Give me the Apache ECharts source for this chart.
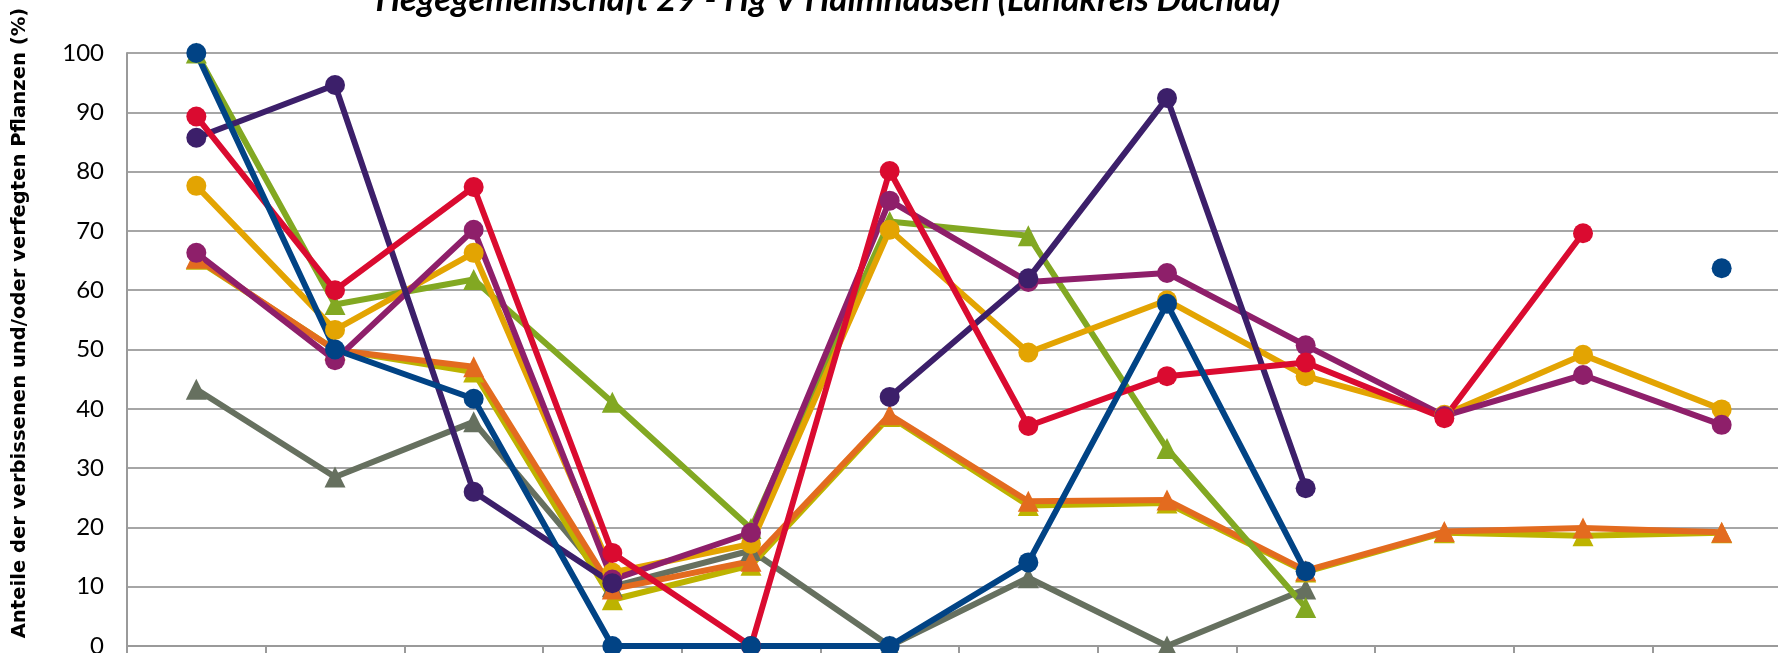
<!DOCTYPE html>
<html>
<head>
<meta charset="utf-8">
<script src="https://cdn.jsdelivr.net/npm/echarts@6/dist/echarts.min.js"></script>
<style>
  html, body { margin: 0; padding: 0; background: #fff; }
  #main { width: 1778px; height: 653px; }
</style>
</head>
<body>
<div id="main"></div>
<script>
// Kategorien (Beschriftung unten abgeschnitten)
var categories = ['1', '2', '3', '4', '5', '6', '7', '8', '9', '10', '11', '12'];
var yTicks = [0, 10, 20, 30, 40, 50, 60, 70, 80, 90, 100];

// Werte je Reihe (null = kein Wert)
var graugruen = [43.3, 28.5, 37.8, 10, 16.1, 0, 11.5, 0, 9.6, null, null, null];
var oliv      = [65.2, 50, 46.2, 7.8, 13.6, 38.7, 23.7, 24.1, 12.5, 19.1, 18.6, 19.1];
var orange    = [65.4, 49.9, 47.1, 9.6, 14.3, 39, 24.4, 24.6, 12.7, 19.3, 19.9, 19.2];
var gruen     = [100, 57.6, 61.8, 41.1, 19.8, 71.6, 69.2, 33.3, 6.5, null, null, null];
var gold      = [77.6, 53.3, 66.3, 12.4, 17.2, 70.2, 49.5, 58.3, 45.5, 39, 49.1, 39.9];
var magenta   = [66.3, 48.2, 70.2, 11.2, 19.1, 75.1, 61.4, 62.9, 50.7, 38.8, 45.7, 37.3];
var violett   = [85.7, 94.6, 26, 10.6, null, 42, 62, 92.4, 26.6, null, null, null];
var rot       = [89.3, 60, 77.4, 15.7, 0, 80.1, 37.1, 45.5, 47.8, 38.4, 69.6, null];
var blau      = [100, 50, 41.7, 0, 0, 0, 14.1, 57.7, 12.6, null, null, 63.7];

var chart = echarts.init(document.getElementById('main'));

function reihe(name, data, color, symbol) {
  return {
    name: name,
    type: 'line',
    data: data,
    symbol: symbol,
    symbolSize: symbol === 'triangle' ? 21 : 20,
    showAllSymbol: true,
    lineStyle: { width: 6, color: color },
    itemStyle: { color: color },
    emphasis: { disabled: true }
  };
}

chart.setOption({
  animation: false,
  // Zeichenfläche ragt rechts über den Bildrand hinaus
  grid: { left: 127, width: 1664, top: 53, bottom: 7, outerBoundsMode: 'none' },
  graphic: [
    {
      type: 'text', x: 828, y: 17,
      style: {
        text: 'Hegegemeinschaft 29 - Hg V Haimhausen (Landkreis Dachau)',
        font: 'italic bold 35px Lato',
        fill: '#000', align: 'center', verticalAlign: 'bottom'
      }
    },
    {
      type: 'text', x: 20, y: 323, rotation: Math.PI / 2,
      style: {
        text: 'Anteile der verbissenen und/oder verfegten Pflanzen (%)',
        font: 'bold 19.6px "DejaVu Sans"',
        fill: '#000', align: 'center', verticalAlign: 'middle'
      }
    }
  ],
  xAxis: {
    type: 'category',
    data: categories,
    boundaryGap: true,
    axisLine: { lineStyle: { color: '#9a9a9a', width: 2 } },
    axisTick: { show: true, length: 8, lineStyle: { color: '#9a9a9a', width: 2 } },
    axisLabel: { show: false }
  },
  yAxis: {
    type: 'value',
    min: yTicks[0],
    max: yTicks[yTicks.length - 1],
    interval: 10,
    axisLine: { show: true, lineStyle: { color: '#9a9a9a', width: 2 } },
    axisTick: { show: false },
    axisLabel: { margin: 23, fontFamily: 'Lato', fontSize: 24, color: '#000' },
    splitLine: { lineStyle: { color: '#a6a6a6', width: 2 } }
  },
  series: [
    reihe('Reihe 9', graugruen, '#66705f', 'triangle'),
    reihe('Reihe 7', oliv, '#bdb300', 'triangle'),
    reihe('Reihe 8', orange, '#e36b1f', 'triangle'),
    reihe('Reihe 6', gruen, '#82a822', 'triangle'),
    reihe('Reihe 5', gold, '#e3a402', 'circle'),
    reihe('Reihe 4', magenta, '#8e1f6a', 'circle'),
    reihe('Reihe 2', violett, '#3c1f6a', 'circle'),
    reihe('Reihe 3', rot, '#da0b30', 'circle'),
    reihe('Reihe 1', blau, '#014385', 'circle')
  ]
});
</script>
</body>
</html>
